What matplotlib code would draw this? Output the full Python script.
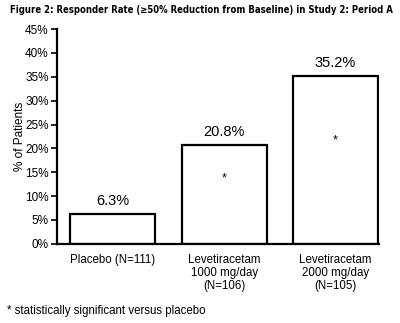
import matplotlib
matplotlib.use("Agg")
import matplotlib.pyplot as plt

plt.rcParams['font.family'] = ['Liberation Sans', 'DejaVu Sans']

categories = ["Placebo (N=111)", "Levetiracetam\n1000 mg/day\n(N=106)", "Levetiracetam\n2000 mg/day\n(N=105)"]
values = [6.3, 20.8, 35.2]
value_labels = ["6.3%", "20.8%", "35.2%"]
significant = [False, True, True]
star_y = [0, 13.8, 21.6]
yticks = [0, 5, 10, 15, 20, 25, 30, 35, 40, 45]
title = "Figure 2: Responder Rate (\u226550% Reduction from Baseline) in Study 2: Period A"
footnote = "* statistically significant versus placebo"

fig = plt.figure(figsize=(4.0, 3.23), dpi=100)
ax = fig.add_axes([0.1425, 0.245, 0.805, 0.665])
x = list(range(len(categories)))
ax.bar(x, values, width=0.765, color='white', edgecolor='black', linewidth=1.6)
ax.set_xlim(-0.5, 2.39)
ax.set_ylim(0, 45)
ax.set_yticks(yticks)
ax.set_yticklabels([f"{t}%" for t in yticks], fontsize=8.5)
ax.set_xticks(x)
ax.set_xticklabels(categories, fontsize=8.3, linespacing=1.15)
ax.tick_params(axis='x', length=0, pad=7)
ax.tick_params(axis='y', length=4, width=1.2, pad=2)
for s in ['top', 'right']:
    ax.spines[s].set_visible(False)
for s in ['left', 'bottom']:
    ax.spines[s].set_linewidth(1.6)
ax.set_ylabel("% of Patients", fontsize=8.5, labelpad=-1)

for xi, v, lab in zip(x, values, value_labels):
    ax.text(xi, v + 1.2, lab, ha='center', va='bottom', fontsize=10.5)
for xi, sig, sy in zip(x, significant, star_y):
    if sig:
        ax.text(xi, sy, "*", ha='center', va='center', fontsize=9)

t = fig.text(0.025, 0.968, title, fontsize=9.5, fontweight='bold',
             family=['DejaVu Sans'], fontstretch='condensed', va='center', ha='left')
fig.canvas.draw()
w = t.get_window_extent().width
target = 385.0
t.set_fontsize(9.5 * target / w)
fig.text(0.018, 0.037, footnote, fontsize=8.3, va='center', ha='left')

fig.savefig("out.png", dpi=100)
